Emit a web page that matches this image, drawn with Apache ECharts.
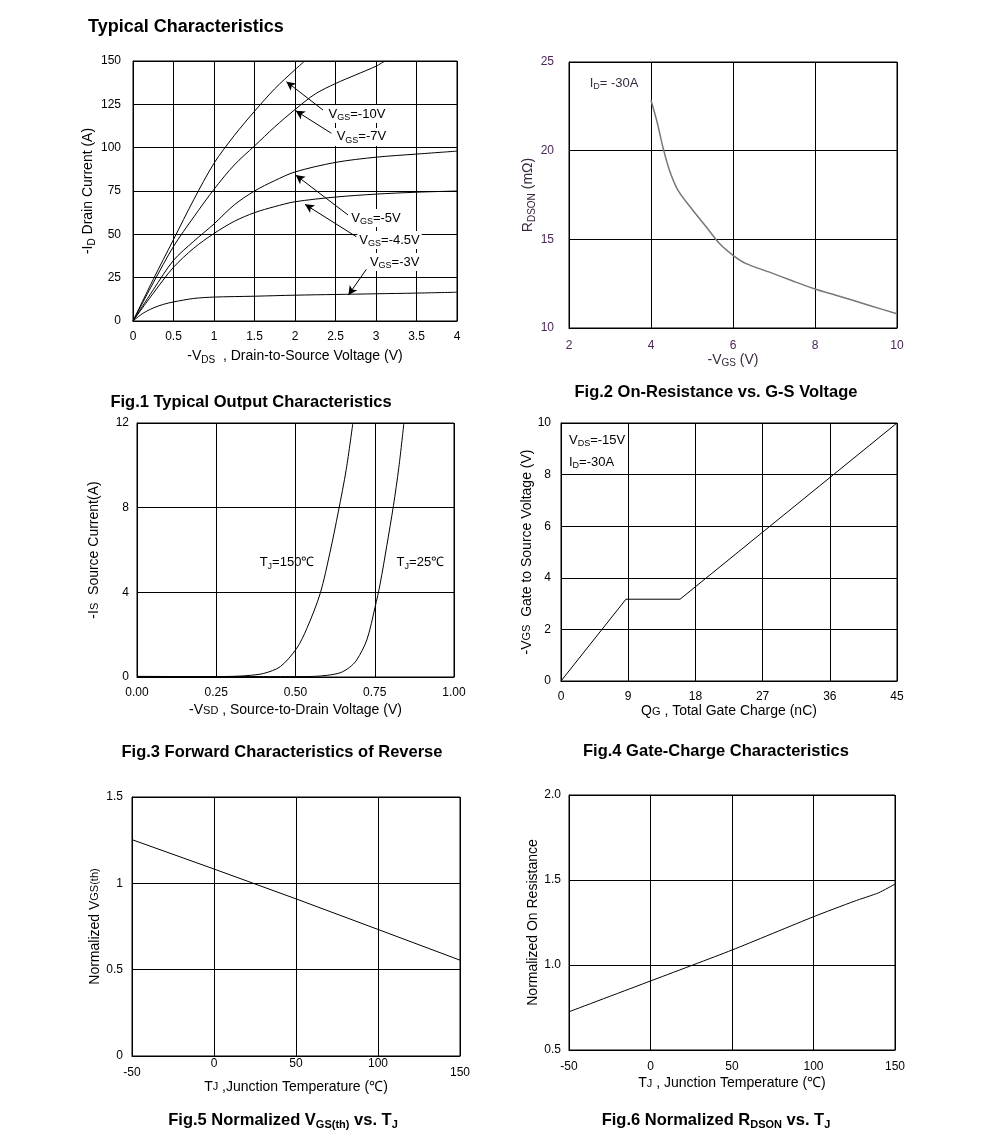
<!DOCTYPE html>
<html><head><meta charset="utf-8">
<script src="https://cdn.jsdelivr.net/npm/echarts@6/dist/echarts.min.js"></script>
<style>html,body{margin:0;padding:0;background:#fff}#c{width:991px;height:1137px}</style>
</head><body><div id="c"></div>
<script>
const FONT = '"Liberation Sans", Arial, Helvetica, sans-serif';

// ---------- Fig.1 Typical Output Characteristics ----------
const fig1Vgs10 = [[0,0],[0.25,24],[0.5,47],[0.75,70],[1,91],[1.25,107],[1.5,121],[1.75,134],[2,145],[2.12,150]];
const fig1Vgs7 = [[0,0],[0.25,22],[0.5,43],[0.75,60],[1,76],[1.25,90],[1.5,101],[1.75,112],[2,122],[2.25,131],[2.5,137],[2.75,142],[3,147],[3.11,150]];
const fig1Vgs5 = [[0,0],[0.25,18],[0.5,35],[0.75,46],[1,56],[1.25,67],[1.5,75],[1.75,81],[2,86],[2.5,91.5],[3,94.5],[3.5,96.3],[4,98]];
const fig1Vgs45 = [[0,0],[0.25,16],[0.5,31],[0.75,42],[1,50.5],[1.25,57.5],[1.5,62.5],[1.75,66],[2,68.8],[2.5,71.5],[3,73.2],[3.5,74.3],[4,75]];
const fig1Vgs3 = [[0,0],[0.125,4.5],[0.25,7.5],[0.375,9.6],[0.5,11],[0.75,13],[1,13.8],[1.5,14.3],[2,14.9],[2.5,15.3],[3,15.7],[3.5,16.1],[4,16.6]];
const fig1LabelText = ['-10V', '-7V', '-5V', '-4.5V', '-3V'];
const fig1LabelAt = [[2.39,119.4],[2.49,106.2],[2.67,59.4],[2.77,46.7],[2.90,34.0]];
const fig1ArrowTail = [[2.346,121.7],[2.449,108.3],[2.654,61.2],[2.758,48.6],[2.881,29.8]];
const fig1ArrowHead = [[1.894,138.1],[2.009,121.3],[2.009,84.2],[2.123,67.3],[2.659,15.0]];

// ---------- Fig.2 On-Resistance vs. G-S Voltage ----------
const fig2Rdson = [[4.0,22.84],[4.15,21.6],[4.29,20.2],[4.45,18.9],[4.66,17.76],[5.02,16.64],[5.35,15.7],[5.67,14.76],[6.0,14.1],[6.32,13.63],[6.89,13.15],[7.46,12.65],[8.0,12.2],[8.51,11.85],[9.33,11.27],[10.0,10.8]];

// ---------- Fig.3 Forward Characteristics of Reverse ----------
const fig3T150 = [[0,0.03],[0.2,0.02],[0.3,0.03],[0.35,0.07],[0.4,0.17],[0.452,0.49],[0.504,1.36],[0.536,2.3],[0.578,3.95],[0.609,5.9],[0.635,7.8],[0.66,9.8],[0.681,12]];
const fig3T25 = [[0,0.02],[0.5,0.02],[0.56,0.03],[0.6,0.08],[0.641,0.2],[0.67,0.45],[0.693,0.8],[0.725,1.75],[0.751,3.3],[0.767,4.4],[0.788,6.2],[0.809,8.1],[0.826,9.9],[0.842,12]];
const fig3LabelAt = [[0.387,5.4],[0.819,5.4]];

// ---------- Fig.4 Gate-Charge Characteristics ----------
const fig4Vgs = [[0,0],[8.7,3.17],[15.95,3.17],[45,10]];
const fig4LabelAt = [[1.07,9.33],[1.07,8.49]];

// ---------- Fig.5 Normalized VGS(th) vs. TJ ----------
const fig5Vth = [[-50,1.253],[0,1.083],[50,0.91],[100,0.733],[150,0.555]];

// ---------- Fig.6 Normalized RDSON vs. TJ ----------
const fig6Ron = [[-50,0.725],[0,0.906],[50,1.088],[100,1.284],[125,1.375],[140,1.425],[150,1.476]];

const NAME_FS = 14;
const TICK_FS = 12;

function nameRich(color) {
  return {
    n: {fontSize: NAME_FS, fontFamily: FONT, lineHeight: 17, color},
    s: {fontSize: 10, fontFamily: FONT, verticalAlign: 'bottom', lineHeight: 12, color},
    m: {fontSize: 11, fontFamily: FONT, color}
  };
}

function xa(gi, min, max, interval, extra) {
  const base = {
    gridIndex: gi, type: 'value', min, max, interval,
    axisLine: {show: true, onZero: false, lineStyle: {color: '#000', width: 1}},
    axisTick: {show: false},
    splitLine: {show: true, lineStyle: {color: '#000', width: 1}},
    axisLabel: {color: '#000', fontSize: TICK_FS, fontFamily: FONT, margin: 10},
    nameLocation: 'middle',
    nameTextStyle: {color: '#000', fontSize: NAME_FS, fontFamily: FONT, rich: nameRich('#000')}
  };
  for (const k in extra) {
    if (typeof extra[k] === 'object' && !Array.isArray(extra[k]) && base[k]) base[k] = Object.assign({}, base[k], extra[k]);
    else base[k] = extra[k];
  }
  return base;
}

function line(xi, data, extra) {
  return Object.assign({
    type: 'line', xAxisIndex: xi, yAxisIndex: xi, data, showSymbol: false, symbol: 'none',
    smooth: 0.3, lineStyle: {color: '#000', width: 1}, silent: true, animation: false, z: 5
  }, extra || {});
}

function textSeries(xi, points, texts, extra, color) {
  const c = color || '#000';
  return {
    type: 'scatter', xAxisIndex: xi, yAxisIndex: xi, symbolSize: 0, silent: true, animation: false, z: 10,
    itemStyle: {opacity: 1, color: c},
    data: points.map((p, i) => ({value: p, name: texts[i]})),
    label: Object.assign({
      show: true, position: 'right', distance: 0, color: c, opacity: 1, fontSize: 13, fontFamily: FONT,
      formatter: p => p.name,
      rich: {s: {fontSize: 9, fontFamily: FONT, verticalAlign: 'bottom', lineHeight: 11, color: c},
             n: {fontSize: 13, fontFamily: FONT, lineHeight: 16, color: c}}
    }, extra || {})
  };
}

const grids = [
  {left: 133, top: 61, width: 324, height: 260},
  {left: 569, top: 62, width: 328, height: 266},
  {left: 137, top: 423, width: 317, height: 254},
  {left: 561, top: 423, width: 336, height: 258},
  {left: 132, top: 797, width: 328, height: 259},
  {left: 569, top: 795, width: 326, height: 255}
].map(g => Object.assign(g, {show: true, borderColor: '#000', borderWidth: 1, containLabel: false}));

const P2 = '#4a2656';

const xAxes = [
  xa(0, 0, 4, 0.5, {name: '{n|-V}{s|DS}{n|  , Drain-to-Source Voltage (V)}', nameGap: 27}),
  xa(1, 2, 10, 2, {name: '{n|-V}{s|GS}{n| (V)}', nameGap: 21, axisLabel: {color: P2, margin: 12}, nameTextStyle: {rich: nameRich('#3a2a40')}}),
  xa(2, 0, 1, 0.25, {name: '{n|-V}{m|SD}{n| , Source-to-Drain Voltage (V)}', nameGap: 25, axisLabel: {formatter: v => v.toFixed(2)}}),
  xa(3, 0, 45, 9, {name: '{n|Q}{m|G}{n| , Total Gate Charge (nC)}', nameGap: 22, axisLabel: {margin: 10}}),
  xa(4, -50, 150, 50, {name: '{n|T}{m|J}{n| ,Junction Temperature (℃)}', nameGap: 16,
     axisLabel: {margin: 2, formatter: v => (v === -50 || v === 150) ? '{lo|' + v + '}' : '{hi|' + v + '}',
                 rich: {lo: {padding: [9, 0, 0, 0], fontSize: TICK_FS, fontFamily: FONT, color: '#000'}, hi: {fontSize: TICK_FS, fontFamily: FONT, color: '#000'}}}}),
  xa(5, -50, 150, 50, {name: '{n|T}{m|J}{n| , Junction Temperature (℃)}', nameGap: 25, axisLabel: {margin: 11}})
];

const yAxes = [
  xa(0, 0, 150, 25, {name: '{n|-I}{s|D}{n| Drain Current (A)}', nameGap: 31, axisLabel: {margin: 12}}),
  xa(1, 10, 25, 5, {name: '{n|R}{s|DSON}{n| (mΩ)}', nameGap: 21, axisLabel: {color: P2, margin: 15}, nameTextStyle: {rich: nameRich('#3a2a40')}}),
  xa(2, 0, 12, 4, {name: '{n|-I}{m|S}{n|  Source Current(A)}', nameGap: 34, axisLabel: {margin: 8}}),
  xa(3, 0, 10, 2, {name: '{n|-V}{m|GS}{n|  Gate to Source Voltage (V)}', nameGap: 9, axisLabel: {margin: 10}}),
  xa(4, 0, 1.5, 0.5, {name: '{n|Normalized V}{m|GS(th)}', nameGap: 27, axisLabel: {margin: 9}}),
  xa(5, 0.5, 2.0, 0.5, {name: '{n|Normalized On Resistance}', nameGap: 25, axisLabel: {margin: 8, formatter: v => v.toFixed(1)}})
];

const arrowSeries = {
  type: 'line', xAxisIndex: 0, yAxisIndex: 0, data: [], silent: true, animation: false,
  markLine: {
    silent: true, animation: false, symbol: ['none', 'arrow'], symbolSize: [7, 9],
    lineStyle: {color: '#000', width: 1, type: 'solid'}, itemStyle: {color: '#000'}, label: {show: false},
    data: fig1ArrowTail.map((t, i) => [{coord: t}, {coord: fig1ArrowHead[i]}])
  }
};

const series = [
  line(0, fig1Vgs10), line(0, fig1Vgs7), line(0, fig1Vgs5), line(0, fig1Vgs45), line(0, fig1Vgs3),
  arrowSeries,
  textSeries(0, fig1LabelAt, fig1LabelText.map(t => '{n|V}{s|GS}{n|=' + t + '}'),
             {backgroundColor: '#fff', padding: [1, 2, 1, 2]}),
  line(1, fig2Rdson, {lineStyle: {color: '#777', width: 1.5}}),
  textSeries(1, [[2.505, 23.8]], ['{n|I}{s|D}{n|= -30A}'], null, '#3a2a40'),
  line(2, fig3T150, {smooth: 0.3}), line(2, fig3T25, {smooth: 0.3}),
  textSeries(2, fig3LabelAt, ['{n|T}{s|J}{n|=150℃}', '{n|T}{s|J}{n|=25℃}']),
  line(3, fig4Vgs, {smooth: false}),
  textSeries(3, fig4LabelAt, ['{n|V}{s|DS}{n|=-15V}', '{n|I}{s|D}{n|=-30A}']),
  line(4, fig5Vth, {smooth: false}),
  line(5, fig6Ron, {smooth: 0.2})
];

const CAP_FS = 16.5;
const capRich = {
  b: {fontSize: CAP_FS, fontWeight: 'bold', fontFamily: FONT, lineHeight: 20, fill: '#000', color: '#000'},
  s: {fontSize: 11, fontWeight: 'bold', fontFamily: FONT, verticalAlign: 'bottom', lineHeight: 13, fill: '#000', color: '#000'}
};
function cap(x, y, text) {
  return {type: 'text', x, y, silent: true,
          style: {text, fontSize: CAP_FS, fontWeight: 'bold', fontFamily: FONT, fill: '#000',
                  textAlign: 'center', textVerticalAlign: 'middle', verticalAlign: 'middle', align: 'center', rich: capRich}};
}

const option = {
  backgroundColor: '#fff',
  animation: false,
  grid: grids,
  xAxis: xAxes,
  yAxis: yAxes,
  series,
  graphic: [
    {type: 'text', x: 88, y: 27, silent: true,
     style: {text: 'Typical Characteristics', fontSize: 18, fontWeight: 'bold', fontFamily: FONT, fill: '#000', textVerticalAlign: 'middle', verticalAlign: 'middle'}},
    cap(251, 402, '{b|Fig.1 Typical Output Characteristics}'),
    cap(716, 392, '{b|Fig.2 On-Resistance vs. G-S Voltage}'),
    cap(282, 752, '{b|Fig.3 Forward Characteristics of Reverse}'),
    cap(716, 751, '{b|Fig.4 Gate-Charge Characteristics}'),
    cap(283, 1120, '{b|Fig.5 Normalized V}{s|GS(th)}{b| vs. T}{s|J}'),
    cap(716, 1120, '{b|Fig.6 Normalized R}{s|DSON}{b| vs. T}{s|J}')
  ]
};

const chart = echarts.init(document.getElementById('c'), null, {renderer: 'canvas'});
chart.setOption(option);
</script>
</body></html>
